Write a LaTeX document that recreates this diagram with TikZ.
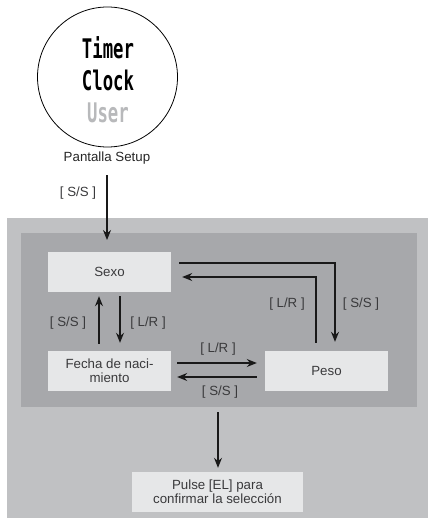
\documentclass[tikz,border=0pt]{standalone}
\usepackage{fontspec}
\setmainfont{Liberation Sans}
\newfontfamily\lcdfont{DejaVu Sans Mono}
\usepackage{xcolor}
\usetikzlibrary{positioning,arrows.meta}

\definecolor{outergray}{HTML}{C0C1C3}
\definecolor{innergray}{HTML}{A7A8AB}
\definecolor{boxgray}{HTML}{E6E7E8}
\definecolor{inkgray}{HTML}{3A3A3C}
\definecolor{usergray}{HTML}{B8B9BB}

\tikzset{
  stepbox/.style={fill=boxgray,minimum width=123,minimum height=40,inner sep=0,align=center,text=inkgray,font=\fontsize{13.3}{15}\selectfont},
  keylbl/.style={inner sep=1pt,text=inkgray,font=\fontsize{13.3}{15}\selectfont},
  lcd/.style={font=\lcdfont\bfseries\fontsize{27}{27}\selectfont,xscale=0.64,inner sep=0},
  arr/.style={line width=1.1pt,draw=black!90,-{Stealth[length=10pt,width=8pt]}}
}

\begin{document}
\begin{tikzpicture}[x=1pt,y=-1pt]
\useasboundingbox (0,0) rectangle (428,518);
% display
\node[circle,draw,line width=0.8pt,minimum size=140,inner sep=0] (disp) at (107.5,77) {};
\node[lcd] (timer) at (108,48) {Timer};
\node[lcd] (clock) at (108,80) {Clock};
\node[lcd,text=usergray] (user) at (108,113) {User};
\node[keylbl,text=black!85] (setup) at (107,158) {Pantalla Setup};
% menu panels
\fill[outergray] (7,218) rectangle (428,518);
\fill[innergray] (21,233) rectangle (417,407);
\coordinate (entry) at (107,240);
\coordinate (exit) at (218,412);
\node[stepbox] (sexo) at (109.5,272) {Sexo};
\node[stepbox] (fecha) at (109.5,371) {Fecha de naci-\\[-1pt]miento};
\node[stepbox] (peso) at (326.5,371) {Peso};
\node[stepbox,minimum width=171] (pulse) at (217.5,492) {Pulse [EL] para\\[-1pt]confirmar la selección};
% connectors
\draw[arr,shorten <=10pt] (setup.south) -- (entry);
\node[keylbl] at (78,193) {[ S/S ]};
\draw[arr,shorten <=8pt,shorten >=9pt] ([yshift=9pt]sexo.east) -| ([xshift=8.5pt]peso.north);
\draw[arr,shorten <=8pt,shorten >=11pt] ([xshift=-10.5pt]peso.north) |- ([yshift=-5pt]sexo.east);
\node[keylbl] at (287,304) {[ L/R ]};
\node[keylbl] at (361,304) {[ S/S ]};
\draw[arr,shorten <=7pt,shorten >=4pt] ([xshift=-10.5pt]fecha.north) -- ([xshift=-10.5pt]sexo.south);
\draw[arr,shorten <=4pt,shorten >=8pt] ([xshift=10.5pt]sexo.south) -- ([xshift=10.5pt]fecha.north);
\node[keylbl] at (68,323) {[ S/S ]};
\node[keylbl] at (148,323) {[ L/R ]};
\draw[arr,shorten <=6pt,shorten >=8pt] ([yshift=8pt]fecha.east) -- ([yshift=8pt]peso.west);
\draw[arr,shorten <=8pt,shorten >=6pt] ([yshift=-6pt]peso.west) -- ([yshift=-6pt]fecha.east);
\node[keylbl] at (218,349) {[ L/R ]};
\node[keylbl] at (220,392) {[ S/S ]};
\draw[arr,shorten >=4pt] (exit) -- (exit |- pulse.north);
\end{tikzpicture}
\end{document}
